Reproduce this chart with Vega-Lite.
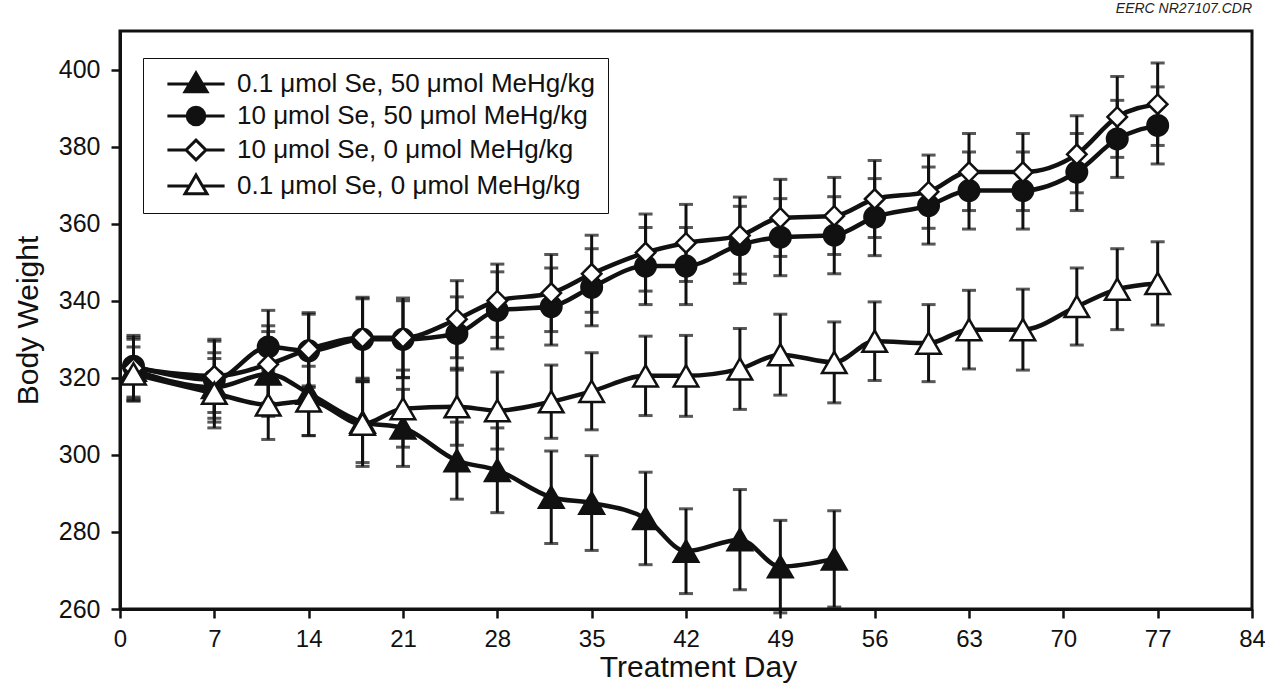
{
  "$schema": "https://vega.github.io/schema/vega-lite/v6.json",
  "autosize": "none",
  "width": 1132,
  "height": 578,
  "padding": {"left": 120, "top": 31, "right": 13, "bottom": 76},
  "background": "white",
  "title": {"text": "EERC NR27107.CDR", "anchor": "end", "frame": "group", "fontSize": 14, "fontStyle": "italic", "fontWeight": "normal", "font": "Liberation Sans", "color": "#222", "baseline": "alphabetic", "offset": 4},
  "config": {
    "view": {"stroke": "#111", "strokeWidth": 3},
    "font": "Liberation Sans",
    "axis": {"domainColor": "#111", "domainWidth": 3, "tickColor": "#111", "tickWidth": 2.5, "tickSize": 9, "labelFont": "Liberation Sans", "labelFontSize": 25, "labelColor": "#111", "titleFont": "Liberation Sans", "titleFontSize": 30, "titleFontWeight": "normal", "titleColor": "#111", "grid": false, "labelFlush": false}
  },
  "data": {"values": [
    {"s": "0.1 μmol Se, 50 μmol MeHg/kg", "day": 1, "w": 322, "e": 8},
    {"s": "0.1 μmol Se, 50 μmol MeHg/kg", "day": 7, "w": 317.5, "e": 9},
    {"s": "0.1 μmol Se, 50 μmol MeHg/kg", "day": 11, "w": 321, "e": 11},
    {"s": "0.1 μmol Se, 50 μmol MeHg/kg", "day": 14, "w": 316, "e": 11},
    {"s": "0.1 μmol Se, 50 μmol MeHg/kg", "day": 18, "w": 308.5, "e": 10.5},
    {"s": "0.1 μmol Se, 50 μmol MeHg/kg", "day": 21, "w": 307, "e": 10},
    {"s": "0.1 μmol Se, 50 μmol MeHg/kg", "day": 25, "w": 298.5, "e": 10},
    {"s": "0.1 μmol Se, 50 μmol MeHg/kg", "day": 28, "w": 296, "e": 11},
    {"s": "0.1 μmol Se, 50 μmol MeHg/kg", "day": 32, "w": 289, "e": 12},
    {"s": "0.1 μmol Se, 50 μmol MeHg/kg", "day": 35, "w": 287.5, "e": 12.3},
    {"s": "0.1 μmol Se, 50 μmol MeHg/kg", "day": 39, "w": 283.5, "e": 12},
    {"s": "0.1 μmol Se, 50 μmol MeHg/kg", "day": 42, "w": 275, "e": 11},
    {"s": "0.1 μmol Se, 50 μmol MeHg/kg", "day": 46, "w": 278, "e": 13},
    {"s": "0.1 μmol Se, 50 μmol MeHg/kg", "day": 49, "w": 271, "e": 12},
    {"s": "0.1 μmol Se, 50 μmol MeHg/kg", "day": 53, "w": 273, "e": 12.5},
    {"s": "10 μmol Se, 50 μmol MeHg/kg", "day": 1, "w": 323, "e": 8},
    {"s": "10 μmol Se, 50 μmol MeHg/kg", "day": 7, "w": 319.5, "e": 10},
    {"s": "10 μmol Se, 50 μmol MeHg/kg", "day": 11, "w": 328, "e": 9.5},
    {"s": "10 μmol Se, 50 μmol MeHg/kg", "day": 14, "w": 327, "e": 9.5},
    {"s": "10 μmol Se, 50 μmol MeHg/kg", "day": 18, "w": 330, "e": 10.5},
    {"s": "10 μmol Se, 50 μmol MeHg/kg", "day": 21, "w": 330, "e": 10},
    {"s": "10 μmol Se, 50 μmol MeHg/kg", "day": 25, "w": 331.5, "e": 9.5},
    {"s": "10 μmol Se, 50 μmol MeHg/kg", "day": 28, "w": 337.5, "e": 10},
    {"s": "10 μmol Se, 50 μmol MeHg/kg", "day": 32, "w": 338.5, "e": 10},
    {"s": "10 μmol Se, 50 μmol MeHg/kg", "day": 35, "w": 343.5, "e": 10},
    {"s": "10 μmol Se, 50 μmol MeHg/kg", "day": 39, "w": 349, "e": 10},
    {"s": "10 μmol Se, 50 μmol MeHg/kg", "day": 42, "w": 349, "e": 10},
    {"s": "10 μmol Se, 50 μmol MeHg/kg", "day": 46, "w": 354.5, "e": 10},
    {"s": "10 μmol Se, 50 μmol MeHg/kg", "day": 49, "w": 356.5, "e": 10},
    {"s": "10 μmol Se, 50 μmol MeHg/kg", "day": 53, "w": 357, "e": 10},
    {"s": "10 μmol Se, 50 μmol MeHg/kg", "day": 56, "w": 361.7, "e": 10},
    {"s": "10 μmol Se, 50 μmol MeHg/kg", "day": 60, "w": 364.7, "e": 10},
    {"s": "10 μmol Se, 50 μmol MeHg/kg", "day": 63, "w": 368.6, "e": 10},
    {"s": "10 μmol Se, 50 μmol MeHg/kg", "day": 67, "w": 368.6, "e": 10},
    {"s": "10 μmol Se, 50 μmol MeHg/kg", "day": 71, "w": 373.4, "e": 10},
    {"s": "10 μmol Se, 50 μmol MeHg/kg", "day": 74, "w": 382, "e": 10},
    {"s": "10 μmol Se, 50 μmol MeHg/kg", "day": 77, "w": 385.5, "e": 10},
    {"s": "10 μmol Se, 0 μmol MeHg/kg", "day": 1, "w": 322.5, "e": 8},
    {"s": "10 μmol Se, 0 μmol MeHg/kg", "day": 7, "w": 320.5, "e": 9.5},
    {"s": "10 μmol Se, 0 μmol MeHg/kg", "day": 11, "w": 323.5, "e": 10},
    {"s": "10 μmol Se, 0 μmol MeHg/kg", "day": 14, "w": 327.4, "e": 9.5},
    {"s": "10 μmol Se, 0 μmol MeHg/kg", "day": 18, "w": 330.4, "e": 10.5},
    {"s": "10 μmol Se, 0 μmol MeHg/kg", "day": 21, "w": 330.4, "e": 10.3},
    {"s": "10 μmol Se, 0 μmol MeHg/kg", "day": 25, "w": 335.2, "e": 10},
    {"s": "10 μmol Se, 0 μmol MeHg/kg", "day": 28, "w": 340, "e": 9.5},
    {"s": "10 μmol Se, 0 μmol MeHg/kg", "day": 32, "w": 342, "e": 10},
    {"s": "10 μmol Se, 0 μmol MeHg/kg", "day": 35, "w": 347, "e": 10},
    {"s": "10 μmol Se, 0 μmol MeHg/kg", "day": 39, "w": 352.5, "e": 10},
    {"s": "10 μmol Se, 0 μmol MeHg/kg", "day": 42, "w": 355, "e": 10},
    {"s": "10 μmol Se, 0 μmol MeHg/kg", "day": 46, "w": 356.9, "e": 10},
    {"s": "10 μmol Se, 0 μmol MeHg/kg", "day": 49, "w": 361.5, "e": 10},
    {"s": "10 μmol Se, 0 μmol MeHg/kg", "day": 53, "w": 362, "e": 10},
    {"s": "10 μmol Se, 0 μmol MeHg/kg", "day": 56, "w": 366.4, "e": 10},
    {"s": "10 μmol Se, 0 μmol MeHg/kg", "day": 60, "w": 368.3, "e": 9.5},
    {"s": "10 μmol Se, 0 μmol MeHg/kg", "day": 63, "w": 373.4, "e": 10},
    {"s": "10 μmol Se, 0 μmol MeHg/kg", "day": 67, "w": 373.4, "e": 10},
    {"s": "10 μmol Se, 0 μmol MeHg/kg", "day": 71, "w": 378, "e": 10},
    {"s": "10 μmol Se, 0 μmol MeHg/kg", "day": 74, "w": 387.7, "e": 10.5},
    {"s": "10 μmol Se, 0 μmol MeHg/kg", "day": 77, "w": 391, "e": 10.7},
    {"s": "0.1 μmol Se, 0 μmol MeHg/kg", "day": 1, "w": 321, "e": 7},
    {"s": "0.1 μmol Se, 0 μmol MeHg/kg", "day": 7, "w": 316, "e": 9},
    {"s": "0.1 μmol Se, 0 μmol MeHg/kg", "day": 11, "w": 313, "e": 9},
    {"s": "0.1 μmol Se, 0 μmol MeHg/kg", "day": 14, "w": 314, "e": 9},
    {"s": "0.1 μmol Se, 0 μmol MeHg/kg", "day": 18, "w": 308, "e": 11},
    {"s": "0.1 μmol Se, 0 μmol MeHg/kg", "day": 21, "w": 312, "e": 10},
    {"s": "0.1 μmol Se, 0 μmol MeHg/kg", "day": 25, "w": 312.5, "e": 10},
    {"s": "0.1 μmol Se, 0 μmol MeHg/kg", "day": 28, "w": 311.5, "e": 10},
    {"s": "0.1 μmol Se, 0 μmol MeHg/kg", "day": 32, "w": 313.8, "e": 9.5},
    {"s": "0.1 μmol Se, 0 μmol MeHg/kg", "day": 35, "w": 316.5, "e": 10},
    {"s": "0.1 μmol Se, 0 μmol MeHg/kg", "day": 39, "w": 320.5, "e": 10.3},
    {"s": "0.1 μmol Se, 0 μmol MeHg/kg", "day": 42, "w": 320.5, "e": 10.5},
    {"s": "0.1 μmol Se, 0 μmol MeHg/kg", "day": 46, "w": 322.3, "e": 10.5},
    {"s": "0.1 μmol Se, 0 μmol MeHg/kg", "day": 49, "w": 326, "e": 10.5},
    {"s": "0.1 μmol Se, 0 μmol MeHg/kg", "day": 53, "w": 324, "e": 10.5},
    {"s": "0.1 μmol Se, 0 μmol MeHg/kg", "day": 56, "w": 329.5, "e": 10.2},
    {"s": "0.1 μmol Se, 0 μmol MeHg/kg", "day": 60, "w": 329, "e": 10},
    {"s": "0.1 μmol Se, 0 μmol MeHg/kg", "day": 63, "w": 332.5, "e": 10.2},
    {"s": "0.1 μmol Se, 0 μmol MeHg/kg", "day": 67, "w": 332.5, "e": 10.5},
    {"s": "0.1 μmol Se, 0 μmol MeHg/kg", "day": 71, "w": 338.5, "e": 10},
    {"s": "0.1 μmol Se, 0 μmol MeHg/kg", "day": 74, "w": 343, "e": 10.5},
    {"s": "0.1 μmol Se, 0 μmol MeHg/kg", "day": 77, "w": 344.5, "e": 10.8}
  ]},
  "encoding": {
    "x": {"field": "day", "type": "quantitative", "scale": {"domain": [0, 84], "nice": false, "zero": false},
      "axis": {"values": [0, 7, 14, 21, 28, 35, 42, 49, 56, 63, 70, 77, 84], "title": "Treatment Day", "labelPadding": 9, "labelFontSize": 24, "titlePadding": 1, "titleX": 578}},
    "y": {"field": "w", "type": "quantitative", "scale": {"domain": [260, 410], "nice": false, "zero": false},
      "axis": {"values": [260, 280, 300, 320, 340, 360, 380, 400], "title": "Body Weight", "labelPadding": 11, "titlePadding": 15}}
  },
  "layer": [
    {
      "mark": {"type": "errorbar", "ticks": {"size": 14, "thickness": 3, "color": "#111"}, "rule": {"strokeWidth": 3, "color": "#111"}},
      "encoding": {"yError": {"field": "e"}, "detail": {"field": "s", "type": "nominal"}}
    },
    {
      "mark": {"type": "line", "interpolate": "monotone", "strokeWidth": 4.5, "color": "#111"},
      "encoding": {"detail": {"field": "s", "type": "nominal"}}
    },
    {
      "mark": {"type": "point", "filled": true, "stroke": "#111", "strokeWidth": 2.5, "opacity": 1},
      "encoding": {
        "shape": {"field": "s", "type": "nominal", "legend": null,
          "scale": {"domain": ["0.1 μmol Se, 50 μmol MeHg/kg", "10 μmol Se, 50 μmol MeHg/kg", "10 μmol Se, 0 μmol MeHg/kg", "0.1 μmol Se, 0 μmol MeHg/kg"], "range": ["triangle-up", "circle", "diamond", "triangle-up"]}},
        "size": {"condition": [{"test": "datum.s == '10 μmol Se, 50 μmol MeHg/kg'", "value": 420}, {"test": "datum.s == '10 μmol Se, 0 μmol MeHg/kg'", "value": 380}], "value": 600},
        "fill": {"condition": {"test": "datum.s == '0.1 μmol Se, 50 μmol MeHg/kg' || datum.s == '10 μmol Se, 50 μmol MeHg/kg'", "value": "#111"}, "value": "white"}
      }
    },
    {
      "transform": [{"filter": "false"}],
      "mark": {"type": "point", "filled": true, "stroke": "#111", "strokeWidth": 3, "opacity": 1},
      "encoding": {
        "shape": {"field": "s", "type": "nominal",
          "scale": {"domain": ["0.1 μmol Se, 50 μmol MeHg/kg", "10 μmol Se, 50 μmol MeHg/kg", "10 μmol Se, 0 μmol MeHg/kg", "0.1 μmol Se, 0 μmol MeHg/kg"],
            "range": [
              "M-2.6,0H2.6M0,-1L1,0.7L-1,0.7Z",
              "M-2.6,0H2.6M0.8,0C0.8,0.442,0.442,0.8,0,0.8C-0.442,0.8,-0.8,0.442,-0.8,0C-0.8,-0.442,-0.442,-0.8,0,-0.8C0.442,-0.8,0.8,-0.442,0.8,0Z",
              "M-2.6,0H-0.9M0.9,0H2.6M0,-0.9L0.9,0L0,0.9L-0.9,0Z",
              "M-2.6,0H-0.6M0.6,0H2.6M0,-1L1,0.7L-1,0.7Z"
            ]},
          "legend": {"title": null, "orient": "none", "legendX": 23, "legendY": 27, "symbolSize": 484, "symbolStrokeWidth": 3, "symbolOffset": 27, "labelOffset": 28, "labelFontSize": 26, "labelFont": "Liberation Sans", "labelColor": "#111", "labelLimit": 0, "rowPadding": 3, "padding": 13, "strokeColor": "#111", "fillColor": "white"}},
        "fill": {"field": "s", "type": "nominal",
          "scale": {"domain": ["0.1 μmol Se, 50 μmol MeHg/kg", "10 μmol Se, 50 μmol MeHg/kg", "10 μmol Se, 0 μmol MeHg/kg", "0.1 μmol Se, 0 μmol MeHg/kg"], "range": ["#111", "#111", "white", "white"]},
          "legend": {"title": null, "orient": "none", "legendX": 23, "legendY": 27, "symbolSize": 484, "symbolStrokeWidth": 3, "symbolOffset": 27, "labelOffset": 28, "labelFontSize": 26, "labelFont": "Liberation Sans", "labelColor": "#111", "labelLimit": 0, "rowPadding": 3, "padding": 13, "strokeColor": "#111", "fillColor": "white"}}
      }
    }
  ],
  "resolve": {"scale": {"shape": "independent", "fill": "independent"}}
}
